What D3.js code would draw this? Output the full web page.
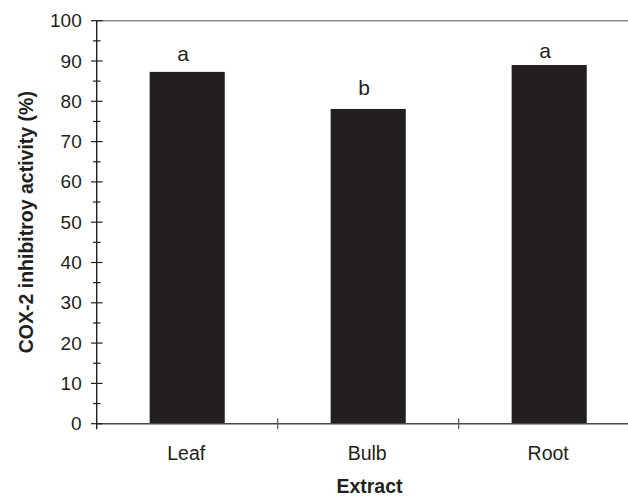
<!DOCTYPE html>
<html>
<head>
<meta charset="UTF-8">
<title>COX-2 inhibitory activity</title>
<style>
  body { margin: 0; background: #fff; }
  svg { display: block; }
  text { font-family: "Liberation Sans", Arial, sans-serif; fill: #231f20; }
</style>
</head>
<body>
<svg width="628" height="498"></svg>
<script src="https://d3js.org/d3.v7.min.js"></script>
<script>
// data
const extracts = ["Leaf", "Bulb", "Root"];
const activity = [87.3, 78.1, 89.0];
const letters = ["a", "b", "a"];
const letterAt = [90.1, 81.6, 90.7];   // where the significance letters sit, in axis units
const yTicks = [0, 10, 20, 30, 40, 50, 60, 70, 80, 90, 100];
const yMinor = [5, 15, 25, 35, 45, 55, 65, 75, 85, 95];

const svg = d3.select("svg");
const dark = "#231f20";

let y = d3.scaleLinear().domain([0, 100]).range([423.7, 20.7]);
let x = d3.scaleBand().domain(extracts).range([96.7, 639.7])
    .paddingInner(0.585).paddingOuter(0.2925);

// top frame line
svg.append("line")
    .attr("x1", 96.7).attr("x2", 628)
    .attr("y1", y(100)).attr("y2", y(100))
    .attr("stroke", "#8a8a8a").attr("stroke-width", 1.5);

// bars
svg.append("g").selectAll("rect")
  .data(extracts)
  .enter().append("rect")
    .attr("x", d => x(d))
    .attr("width", x.bandwidth())
    .attr("y", (d, i) => y(activity[i]))
    .attr("height", (d, i) => y(0) - y(activity[i]))
    .attr("fill", dark);

// x axis line + ticks between categories
svg.append("line")
    .attr("x1", 96.7).attr("x2", 628)
    .attr("y1", y(0)).attr("y2", y(0))
    .attr("stroke", "#4a4a4a").attr("stroke-width", 1.5);

let gap = (x.step() - x.bandwidth()) / 2;
svg.append("g").selectAll("line")
  .data(extracts.slice(1))
  .enter().append("line")
    .attr("x1", d => x(d) - gap)
    .attr("x2", d => x(d) - gap)
    .attr("y1", y(0) - 5.5).attr("y2", y(0) + 5.5)
    .attr("stroke", "#555").attr("stroke-width", 1.2);

// y axis
let yAxis = d3.axisLeft(y).tickValues(yTicks).tickSize(0).tickPadding(15);
let gy = svg.append("g")
    .attr("transform", "translate(96.7,0)")
    .call(yAxis);
gy.select(".domain").remove();
gy.selectAll("text")
    .attr("font-size", 19)
    .attr("font-family", "'Liberation Sans', Arial, sans-serif")
    .attr("fill", dark);

svg.append("line")
    .attr("x1", 96.7).attr("x2", 96.7)
    .attr("y1", y(100)).attr("y2", y(0) + 5.5)
    .attr("stroke", dark).attr("stroke-width", 1.4);

svg.append("g").selectAll("line")
  .data(yTicks)
  .enter().append("line")
    .attr("x1", 91).attr("x2", 102.5)
    .attr("y1", d => y(d)).attr("y2", d => y(d))
    .attr("stroke", dark).attr("stroke-width", 1.2);

svg.append("g").selectAll("line")
  .data(yMinor)
  .enter().append("line")
    .attr("x1", 93).attr("x2", 100.5)
    .attr("y1", d => y(d)).attr("y2", d => y(d))
    .attr("stroke", dark).attr("stroke-width", 1.2);

// category labels
svg.append("g").selectAll("text")
  .data(extracts)
  .enter().append("text")
    .attr("x", d => x(d) + x.bandwidth() / 2 - 1)
    .attr("y", 460)
    .attr("text-anchor", "middle")
    .attr("font-size", 19.5)
    .text(d => d);

// significance letters
svg.append("g").selectAll("text")
  .data(letters)
  .enter().append("text")
    .attr("x", (d, i) => x(extracts[i]) + x.bandwidth() / 2 - 4)
    .attr("y", (d, i) => y(letterAt[i]))
    .attr("text-anchor", "middle")
    .attr("font-size", 21)
    .text(d => d);

// axis titles
svg.append("text")
    .attr("transform", "translate(33," + ((y(0) + y(100)) / 2) + ") rotate(-90)")
    .attr("text-anchor", "middle")
    .attr("font-size", 19.5)
    .attr("font-weight", "bold")
    .text("COX-2 inhibitroy activity (%)");

svg.append("text")
    .attr("x", 369.5)
    .attr("y", 493)
    .attr("text-anchor", "middle")
    .attr("font-size", 19.5)
    .attr("font-weight", "bold")
    .text("Extract");
</script>
</body>
</html>
